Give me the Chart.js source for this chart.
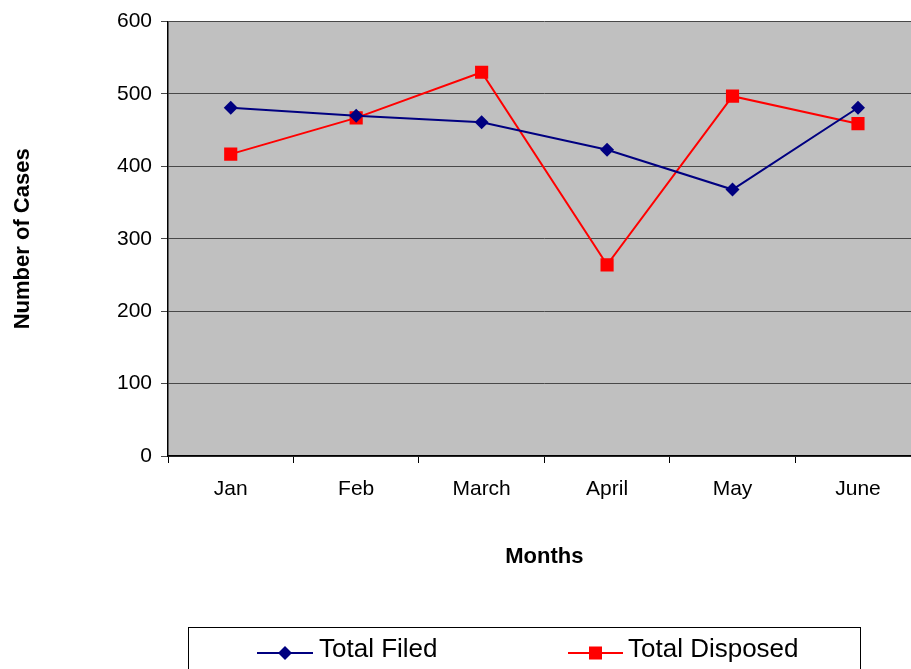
<!DOCTYPE html>
<html>
<head>
<meta charset="utf-8">
<script src="https://cdn.jsdelivr.net/npm/chart.js@4"></script>
<style>
  html, body { margin: 0; padding: 0; background: #ffffff; overflow: hidden; width: 911px; height: 669px; }
  canvas { display: block; }
</style>
</head>
<body>
<canvas id="c" width="930" height="669" style="width:930px;height:669px"></canvas>
<script>
const months = ['Jan', 'Feb', 'March', 'April', 'May', 'June'];
const totalFiled = [481, 470, 461, 423, 368, 481];
const totalDisposed = [417, 467, 530, 264, 497, 459];
const yTicks = [0, 100, 200, 300, 400, 500, 600];

const FONT = "'Liberation Sans', Arial, sans-serif";

const plotBg = {
  id: 'plotBg',
  beforeDraw(chart) {
    const a = chart.chartArea, ctx = chart.ctx;
    ctx.save();
    ctx.fillStyle = '#c0c0c0';
    ctx.fillRect(a.left, a.top, a.right - a.left, a.bottom - a.top);
    ctx.restore();
  }
};

const boxLegend = {
  id: 'boxLegend',
  afterDraw(chart) {
    const ctx = chart.ctx;
    ctx.save();
    ctx.strokeStyle = '#000000';
    ctx.lineWidth = 1;
    ctx.strokeRect(188.5, 627.5, 672, 60);
    const items = [
      { ds: chart.data.datasets[0], x0: 257, x1: 313, tx: 319 },
      { ds: chart.data.datasets[1], x0: 568, x1: 623, tx: 628 }
    ];
    const ly = 653;
    items.forEach(it => {
      const ds = it.ds;
      ctx.strokeStyle = ds.borderColor;
      ctx.lineWidth = 2;
      ctx.beginPath();
      ctx.moveTo(it.x0, ly);
      ctx.lineTo(it.x1, ly);
      ctx.stroke();
      const cx = (it.x0 + it.x1) / 2;
      ctx.fillStyle = ds.pointBackgroundColor;
      if (ds.pointStyle === 'rectRot') {
        const r = 7;
        ctx.beginPath();
        ctx.moveTo(cx, ly - r);
        ctx.lineTo(cx + r, ly);
        ctx.lineTo(cx, ly + r);
        ctx.lineTo(cx - r, ly);
        ctx.closePath();
        ctx.fill();
      } else {
        const s = 6.5;
        ctx.fillRect(cx - s, ly - s, 2 * s, 2 * s);
      }
      ctx.fillStyle = '#000000';
      ctx.font = '26px ' + FONT;
      ctx.textBaseline = 'middle';
      ctx.textAlign = 'left';
      ctx.fillText(ds.label, it.tx, 650);
    });
    ctx.restore();
  }
};

new Chart(document.getElementById('c'), {
  type: 'line',
  data: {
    labels: months,
    datasets: [
      {
        label: 'Total Filed',
        data: totalFiled,
        borderColor: '#000080',
        backgroundColor: '#000080',
        pointBackgroundColor: '#000080',
        pointBorderColor: '#000080',
        borderWidth: 2,
        pointStyle: 'rectRot',
        pointRadius: 7,
        pointHoverRadius: 7,
        pointBorderWidth: 0,
        tension: 0
      },
      {
        label: 'Total Disposed',
        data: totalDisposed,
        borderColor: '#ff0000',
        backgroundColor: '#ff0000',
        pointBackgroundColor: '#ff0000',
        pointBorderColor: '#ff0000',
        borderWidth: 2,
        pointStyle: 'rect',
        pointRadius: 9.3,
        pointHoverRadius: 9.3,
        pointBorderWidth: 0,
        tension: 0
      }
    ]
  },
  options: {
    responsive: false,
    animation: false,
    events: [],
    layout: { padding: { top: 20, right: 6, bottom: 93, left: 0 } },
    plugins: {
      legend: { display: false },
      tooltip: { enabled: false },
      title: { display: false }
    },
    scales: {
      x: {
        type: 'category',
        offset: true,
        afterFit(scale) { scale.height = 120; },
        grid: {
          offset: true,
          drawOnChartArea: false,
          drawTicks: true,
          tickLength: 7,
          color: '#000000',
          lineWidth: 1
        },
        border: { display: true, color: '#000000', width: 1.5 },
        ticks: {
          color: '#000000',
          font: { family: FONT, size: 21 },
          padding: 14,
          maxRotation: 0,
          autoSkip: false
        },
        title: {
          display: true,
          text: 'Months',
          color: '#000000',
          font: { family: FONT, size: 22, weight: 'bold' },
          padding: { top: 0, bottom: 6 }
        }
      },
      y: {
        min: 0,
        max: 600,
        afterFit(scale) { scale.width = 168; },
        afterBuildTicks(scale) { scale.ticks = yTicks.map(v => ({ value: v })); },
        grid: {
          drawOnChartArea: true,
          drawTicks: true,
          tickLength: 7,
          color: '#484848',
          lineWidth: 1
        },
        border: { display: true, color: '#000000', width: 1.5 },
        ticks: {
          color: '#000000',
          font: { family: FONT, size: 21 },
          padding: 9
        },
        title: {
          display: true,
          text: 'Number of Cases',
          color: '#000000',
          font: { family: FONT, size: 22, weight: 'bold' },
          padding: { top: 10, bottom: 0 }
        }
      }
    }
  },
  plugins: [plotBg, boxLegend]
});
</script>
</body>
</html>
